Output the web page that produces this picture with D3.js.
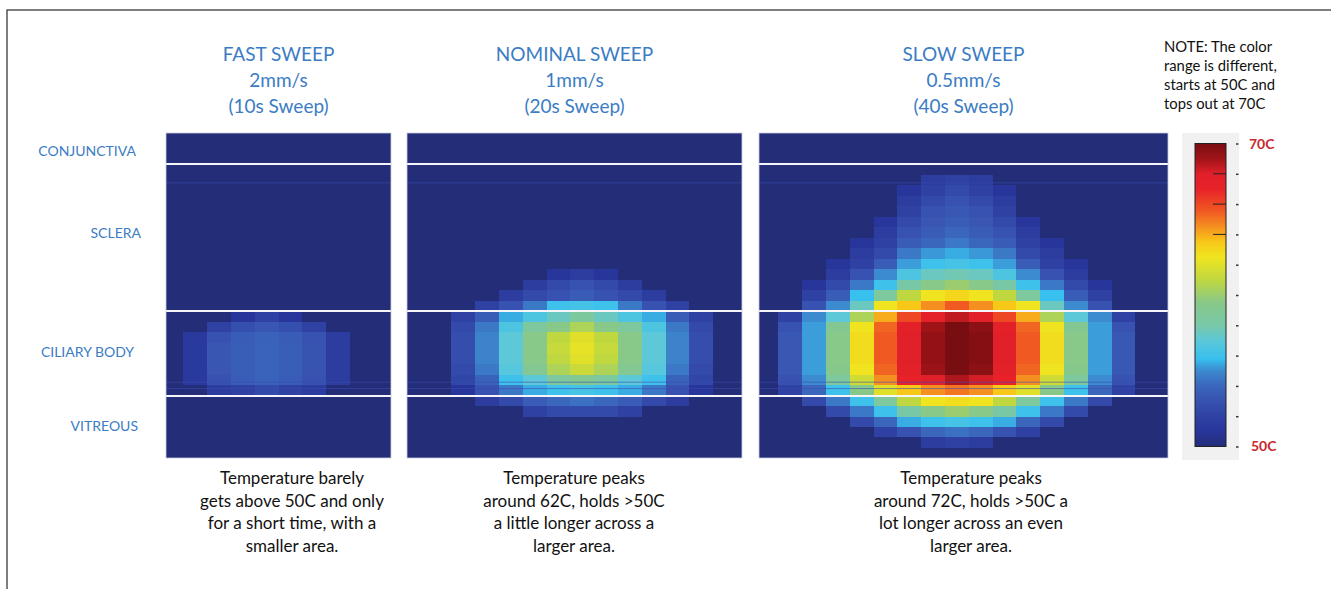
<!DOCTYPE html>
<html><head><meta charset="utf-8">
<script src="https://cdn.jsdelivr.net/npm/d3@7"></script>
<style>html,body{margin:0;padding:0;background:#fff;}svg{display:block;font-family:Lato,"Open Sans",sans-serif;}</style>
</head><body><svg id="c" width="1331" height="589"></svg>
<script>
// ---------------- DATA ----------------
const panelTitles = [
  ["FAST SWEEP", "2mm/s", "(10s Sweep)"],
  ["NOMINAL SWEEP", "1mm/s", "(20s Sweep)"],
  ["SLOW SWEEP", "0.5mm/s", "(40s Sweep)"]
];
const captions = [
  ["Temperature barely", "gets above 50C and only", "for a short time, with a", "smaller area."],
  ["Temperature peaks", "around 62C, holds >50C", "a little longer across a", "larger area."],
  ["Temperature peaks", "around 72C, holds >50C a", "lot longer across an even", "larger area."]
];
const layerNames = ["CONJUNCTIVA", "SCLERA", "CILIARY BODY", "VITREOUS"];
// depth-bin index at each tissue boundary (top, conj|sclera, sclera|ciliary, ciliary|vitreous, bottom)
const layerBoundaries = [0, 3, 17, 25, 31];
// faint mesh lines (depth-bin units)
const meshLines = [4.8, 23.7, 24.3];
const noteLines = ["NOTE: The color", "range is different,", "starts at 50C and", "tops out at 70C"];
const colorbarTicks = [50, 52, 54, 56, 58, 60, 62, 64, 66, 68, 70];
const colorbarInnerTicks = [64, 66, 68];
const colorbarLabels = ["50C", "70C"];
const tempRange = [50, 70];

// colour map (temperature -> colour)
const cmapTemps  = [50, 51, 52, 53, 54, 55, 55.8, 57, 58, 59.5, 61, 62.5, 63.5, 64.5, 65.5, 67, 68, 69, 70];
const cmapColors = ["#232d78","#28359a","#2f42a4","#3752b0","#3a66bc","#3c8ad0","#38c0ee","#5cc8d8","#78c8a8","#88c888",
                    "#c0d840","#f0e420","#f8c818","#f59020","#f05a22","#e82228","#e0202a","#a01418","#780e12"];

// temperature grids (deg C, 0 = below 50C), rows are depth bins starting at *FirstRow, columns are scan positions
const fastFirstRow = 17;
const fastGrid = [
  [0,0,51,52,51,0,0],
  [0,52,52.8,53.2,52.8,52,0],
  [51.3,53,53.5,53.8,53.5,53,51.5],
  [51.3,53.2,53.6,53.9,53.6,53.1,51.5],
  [51.3,53.2,53.6,53.9,53.6,53.1,51.5],
  [51.3,53.2,53.6,53.9,53.6,53.1,51.5],
  [51.3,53,53.5,53.8,53.5,53,51.5],
  [0,51.5,52,52.5,52,51.5,0]
];
const nominalFirstRow = 13;
const nominalGrid = [
  [0,0,0,0,51,51.5,51,0,0,0,0],
  [0,0,0,51.5,52.5,53,52.5,51.5,0,0,0],
  [0,0,51.5,52.5,53,53.5,53,52.5,51.5,0,0],
  [0,52,53,54.5,56,56.2,56,54.5,53,52,0],
  [52,53.5,55.5,56.5,57.5,58.5,57.5,56.5,55.5,53.5,52],
  [52.5,54.5,56.5,58.5,59.5,60.5,59.5,58.5,56.5,54.5,52.5],
  [52.7,54.8,57,59.5,61,62,61,59.5,57,54.8,52.7],
  [52.7,54.8,57,59.5,61.2,62.2,61.2,59.5,57,54.8,52.7],
  [52.7,54.8,57,59.5,61,62,61,59.5,57,54.8,52.7],
  [52.5,54.5,56.8,59,60.5,61.3,60.5,59,56.8,54.5,52.5],
  [52.3,53.8,56,57,58.5,59,58.5,57,56,53.8,52.3],
  [51,53,54.5,55.5,56,56.3,56,55.5,54.5,53,51],
  [0,51.5,52.5,53.5,54,54.3,54,53.5,52.5,51.5,0],
  [0,0,0,52,52.5,52.5,52.5,52,0,0,0]
];
const slowFirstRow = 4;
const slowGrid = [
  [0,0,0,0,0,0,51.5,52,51.5,0,0,0,0,0,0],
  [0,0,0,0,0,51,52,52.5,52,51,0,0,0,0,0],
  [0,0,0,0,0,51.5,52.5,53,52.5,51.5,0,0,0,0,0],
  [0,0,0,0,0,52,53,53.3,53,52,0,0,0,0,0],
  [0,0,0,0,51,52.5,53.2,53.5,53.2,52.5,51,0,0,0,0],
  [0,0,0,0,51.5,53,53.5,54,53.5,53,51.5,0,0,0,0],
  [0,0,0,51,52,53.5,54,54.5,54,53.5,52,51,0,0,0],
  [0,0,0,51.5,52.5,54.5,55.2,55.5,55.2,54.5,52.5,51.5,0,0,0],
  [0,0,51,52,53.5,55.3,56,56.3,56,55.3,53.5,52,51,0,0],
  [0,0,51.5,53,55,56.5,57.5,57.8,57.5,56.5,55,53,51.5,0,0],
  [0,51,52.5,54.5,56,58,59.5,60,59.5,58,56,54.5,52.5,51,0],
  [0,52,53.5,55.8,58.5,61,62.5,63,62.5,61,58.5,55.8,53.5,52,0],
  [0,53,55,57.5,62.5,63.5,64.5,65.5,64.5,63.5,62.5,57.5,55,53,0],
  [52,55,57,60.5,64,66,67.5,68.5,67.8,66,64,60.5,57,55,52],
  [53,55.3,59,62.5,65.3,67.5,69,70.5,69.5,67.5,65.3,62.5,59,55.3,53],
  [53.3,55.3,59.5,62.8,65.5,67.8,69.3,71,69.7,67.8,65.5,62.8,59.5,55.3,53.3],
  [53.3,55.3,59.5,62.8,65.5,67.8,69.3,71,69.7,67.8,65.5,62.8,59.5,55.3,53.3],
  [53.3,55.3,59.5,62.8,65.5,67.8,69.3,71,69.7,67.8,65.5,62.8,59.5,55.3,53.3],
  [53.3,55.3,59.3,62.5,65.3,67.6,69.1,70.5,69.5,67.6,65.3,62.5,59.3,55.3,53.3],
  [53,55,58.5,61.5,64.5,67,68,68.8,68.2,67,64.5,61.5,58.5,55,53],
  [52,54,56,59.5,62,63.5,64.5,65,64.5,63.5,62,59.5,56,54,52],
  [0,52.5,54.5,56,58.5,61,62.5,62.8,62.5,61,58.5,56,54.5,52.5,0],
  [0,0,52.5,54.5,56,58,59.5,60,59.5,58,56,54.5,52.5,0,0],
  [0,0,0,52.5,54,55.5,56,56.3,56,55.5,54,52.5,0,0,0],
  [0,0,0,0,52,53,54,54.3,54,53,52,0,0,0,0],
  [0,0,0,0,0,0,51.5,52,51.5,0,0,0,0,0,0]
];

// ---------------- LAYOUT / DRAW ----------------
const svg = d3.select("#c");
const BLUE = "#3b7cc4", NAVY = "#232d78";
const colW = 23.8;
const panelTop = 133, panelBottom = 458;

svg.append("rect").attr("x", 7).attr("y", 10).attr("width", 1340).attr("height", 600)
  .attr("fill", "none").attr("stroke", "#3a3a3a").attr("stroke-width", 1.3);

const color = d3.scaleLinear().domain(cmapTemps).range(cmapColors)
  .interpolate(d3.interpolateRgb).clamp(true);
const y = d3.scaleLinear().domain(layerBoundaries).range([panelTop, 164, 311, 396, panelBottom]);

const panels = [
  {grid: fastGrid, first: fastFirstRow, x: 166, w: 225, off: 0.727, capX: 292},
  {grid: nominalGrid, first: nominalFirstRow, x: 407, w: 335, off: 1.866, capX: 574},
  {grid: slowGrid, first: slowFirstRow, x: 759, w: 409, off: 0.811, capX: 971}
];

panels.forEach((p, i) => {
  const n = p.w / colW;
  const x = d3.scaleLinear().domain([-p.off, n - p.off]).range([p.x, p.x + p.w]);
  const g = svg.append("g");
  g.append("rect").attr("x", p.x).attr("y", panelTop).attr("width", p.w).attr("height", panelBottom - panelTop)
    .attr("fill", NAVY);
  const cells = [];
  p.grid.forEach((row, r) => row.forEach((v, c) => { if (v > 0) cells.push({r: r + p.first, c, v}); }));
  g.selectAll("rect.cell").data(cells).join("rect").attr("class", "cell")
    .attr("x", d => x(d.c)).attr("y", d => y(d.r))
    .attr("width", x(1) - x(0)).attr("height", d => y(d.r + 1) - y(d.r))
    .attr("fill", d => color(d.v)).attr("shape-rendering", "crispEdges");
  g.selectAll("line.mesh").data(meshLines).join("line").attr("class", "mesh")
    .attr("x1", p.x).attr("x2", p.x + p.w).attr("y1", d => y(d)).attr("y2", d => y(d))
    .attr("stroke", "#3a4cb0").attr("stroke-opacity", 0.6).attr("stroke-width", 1);
  g.selectAll("line.layer").data(layerBoundaries.slice(1, 4)).join("line").attr("class", "layer")
    .attr("x1", p.x).attr("x2", p.x + p.w).attr("y1", d => y(d)).attr("y2", d => y(d))
    .attr("stroke", "#f6f6fa").attr("stroke-width", 2);
  g.append("rect").attr("x", p.x).attr("y", panelTop).attr("width", p.w).attr("height", panelBottom - panelTop)
    .attr("fill", "none").attr("stroke", "#c8cce0").attr("stroke-width", 0.8);

  const cx = p.x + p.w / 2;
  svg.append("text").attr("text-anchor", "middle").attr("fill", BLUE).attr("font-size", 19)
    .selectAll("tspan").data(panelTitles[i]).join("tspan")
    .attr("x", cx).attr("y", (d, k) => 61 + k * 26).text(d => d);
  svg.append("text").attr("text-anchor", "middle").attr("fill", "#111").attr("font-size", 17)
    .selectAll("tspan").data(captions[i]).join("tspan")
    .attr("x", p.capX).attr("y", (d, k) => 484 + k * 22.5).text(d => d);
});

const labelRight = [136, 141, 134, 138];
const labelShift = [2.5, -4.5, -2, -1];
layerNames.forEach((name, i) => {
  const mid = (y(layerBoundaries[i]) + y(layerBoundaries[i + 1])) / 2 + labelShift[i];
  svg.append("text").attr("x", labelRight[i]).attr("y", mid).attr("dy", "0.36em")
    .attr("text-anchor", "end").attr("fill", BLUE).attr("font-size", 14).text(name);
});

svg.append("text").attr("fill", "#111").attr("font-size", 14.8)
  .selectAll("tspan").data(noteLines).join("tspan")
  .attr("x", 1164).attr("y", (d, k) => 52 + k * 19).text(d => d);

const cb = {x: 1195, w: 31, y0: 143.5, y1: 446.5};
const cy = d3.scaleLinear().domain(tempRange).range([cb.y1, cb.y0]);
svg.append("rect").attr("x", 1182).attr("y", 133).attr("width", 57).attr("height", 327).attr("fill", "#f1f1f1");
const grad = svg.append("defs").append("linearGradient").attr("id", "cbg")
  .attr("x1", 0).attr("y1", 1).attr("x2", 0).attr("y2", 0);
grad.selectAll("stop").data(cmapTemps).join("stop")
  .attr("offset", d => (d - tempRange[0]) / (tempRange[1] - tempRange[0]))
  .attr("stop-color", (d, k) => cmapColors[k]);
svg.append("rect").attr("x", cb.x).attr("y", cb.y0).attr("width", cb.w).attr("height", cb.y1 - cb.y0)
  .attr("fill", "url(#cbg)").attr("stroke", "#222").attr("stroke-width", 1);
svg.selectAll("line.cbin").data(colorbarInnerTicks).join("line").attr("class", "cbin")
  .attr("x1", cb.x + cb.w - 13).attr("x2", cb.x + cb.w).attr("y1", d => cy(d)).attr("y2", d => cy(d))
  .attr("stroke", "#222").attr("stroke-width", 1);
const ax = svg.append("g").attr("transform", `translate(${cb.x + cb.w + 10},0)`)
  .call(d3.axisRight(cy).tickValues(colorbarTicks).tickSize(2.5).tickFormat(""));
ax.select(".domain").remove();
ax.selectAll(".tick line").attr("stroke", "#333").attr("stroke-width", 1.5);
svg.append("text").attr("x", 1249).attr("y", cy(70)).attr("dy", "0.36em").attr("fill", "#c8282e")
  .attr("font-weight", "bold").attr("font-size", 14).text(colorbarLabels[1]);
svg.append("text").attr("x", 1251).attr("y", cy(50) - 1).attr("dy", "0.36em").attr("fill", "#c8282e")
  .attr("font-weight", "bold").attr("font-size", 14).text(colorbarLabels[0]);
</script></body></html>
